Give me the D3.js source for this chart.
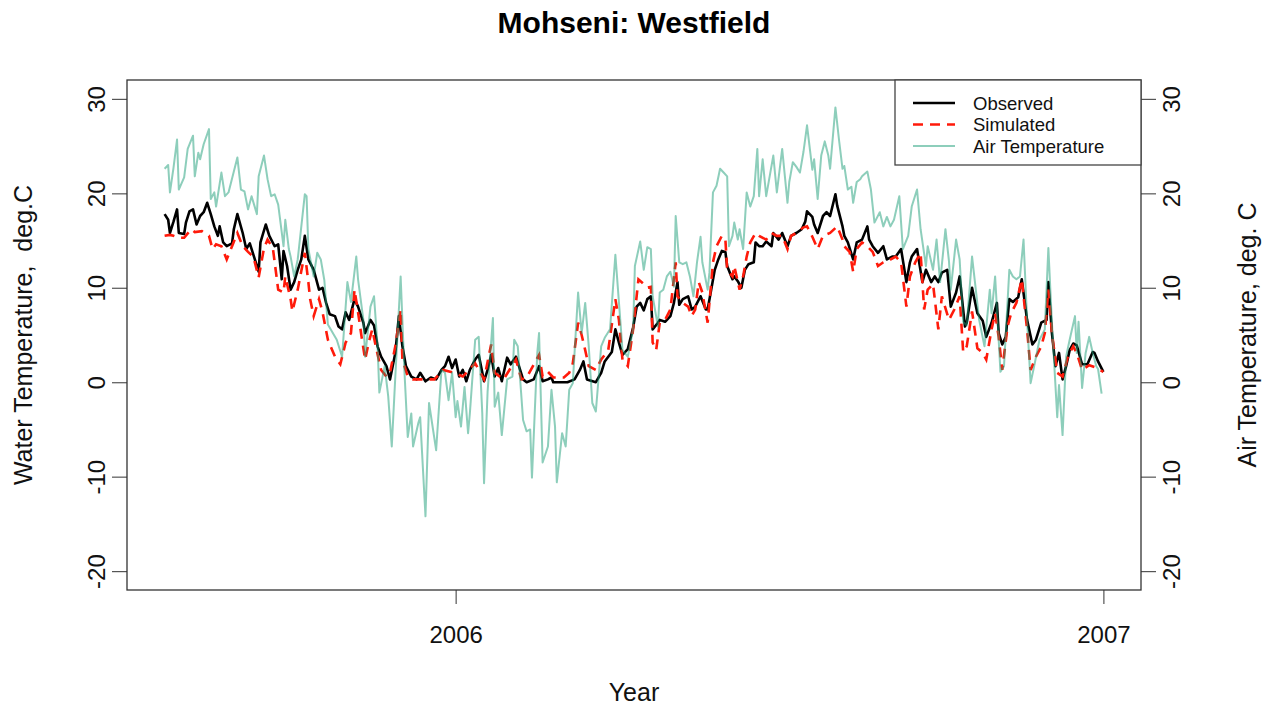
<!DOCTYPE html>
<html><head><meta charset="utf-8">
<script src="https://cdn.jsdelivr.net/npm/d3@7"></script>
<style>body{margin:0;background:#fff;} svg{display:block;font-family:"Liberation Sans",Arial,sans-serif;}</style>
</head><body><svg id="c" width="1264" height="708"></svg>
<script>
// Day offsets are days from 2006-01-01
const obsDays=[-164,-162,-161,-159,-157,-156,-153,-152,-150,-148,-146,-144,-142,-140,-138,-136,-134,-133,-131,-129,-126,-125,-123,-120,-118,-116,-114,-111,-110,-107,-105,-102,-100,-98,-97,-95,-93,-91,-89,-87,-85,-83,-80,-79,-77,-75,-73,-71,-68,-66,-64,-62,-60,-57,-55,-52,-51,-48,-46,-44,-42,-39,-37,-34,-32,-30,-28,-25,-22,-20,-17,-14,-11,-8,-6,-4,-2,0,2,4,6,8,11,13,16,18,20,22,24,26,29,31,34,38,40,44,47,49,52,54,55,63,67,70,72,74,79,82,84,88,90,92,94,97,100,102,104,106,108,110,111,114,115,118,121,123,125,126,128,131,133,135,138,141,142,144,146,148,150,152,153,156,157,159,161,163,165,168,169,171,173,175,178,179,182,184,187,189,192,195,197,198,201,202,204,207,209,211,214,215,218,219,221,224,226,229,232,233,235,238,241,243,246,248,251,254,256,257,260,263,265,268,270,272,274,277,279,282,284,287,288,291,294,297,299,302,305,306,308,310,312,314,317,319,322,325,327,330,333,334,336,338,340,342,344,346,348,350,353,356,359,360,362,365];
const obsTemp=[17.8,17.2,15.8,17.0,18.3,15.8,15.7,16.9,18.1,18.3,16.7,17.6,18.0,19.0,17.8,16.5,15.5,16.5,14.8,14.4,14.7,16.2,17.8,15.8,14.1,14.7,13.5,11.7,14.8,16.7,15.5,14.4,14.6,10.9,13.9,12.3,9.8,10.6,11.9,13.0,15.5,13.0,11.9,11.2,9.8,10.0,8.4,7.2,7.0,5.9,5.6,7.4,6.6,8.8,8.0,6.3,5.2,6.6,6.0,3.8,2.7,1.7,0.3,3.1,7.0,3.8,1.7,0.6,0.3,1.0,0.1,0.5,0.3,1.3,1.7,2.7,1.5,2.4,0.6,1.3,0.1,1.3,2.4,2.9,0.1,1.3,2.9,0.6,1.5,0.1,2.6,1.9,2.7,0.3,0.0,0.3,1.7,0.1,0.3,0.5,0.0,0.0,0.3,1.3,2.2,0.3,0.0,1.0,2.2,3.2,5.6,4.2,2.9,3.5,5.8,8.0,8.4,7.6,8.8,9.1,5.6,6.3,6.6,6.4,7.0,8.4,10.6,8.2,8.8,9.1,7.7,8.0,9.1,7.7,7.7,9.8,11.9,13.0,13.9,13.8,12.3,10.9,11.2,10.7,10.0,11.9,12.5,12.7,14.8,14.4,14.4,14.9,14.4,15.8,15.1,15.8,14.4,15.5,15.8,16.2,17.0,18.1,17.5,16.7,15.8,17.6,18.0,17.6,19.9,18.7,16.5,15.5,14.8,13.0,14.8,15.1,16.5,15.1,14.4,13.7,14.4,13.0,13.3,13.3,14.1,10.6,12.7,13.3,14.1,10.6,11.9,10.6,11.2,10.6,11.6,11.9,8.0,9.5,11.2,5.9,6.3,10.0,7.3,6.5,4.8,6.3,8.4,5.2,4.0,4.8,8.8,8.5,9.0,10.9,6.6,4.0,4.5,6.3,6.6,10.6,5.2,1.7,3.1,0.3,1.7,3.4,4.1,3.9,1.9,1.9,3.2,3.1,2.2,1.1];
const simDays=[-164,-161,-159,-156,-153,-149,-147,-143,-139,-137,-135,-132,-129,-126,-123,-120,-117,-114,-111,-108,-106,-103,-100,-97,-96,-93,-92,-89,-85,-83,-82,-80,-77,-75,-72,-68,-65,-62,-59,-57,-55,-53,-51,-49,-47,-45,-42,-39,-37,-34,-31,-30,-27,-24,-20,-12,-7,-1,4,11,16,20,22,27,34,37,40,47,49,52,55,61,64,66,68,69,71,73,75,79,82,86,90,92,94,97,100,103,106,108,110,111,113,115,118,121,124,125,128,131,133,135,137,139,142,143,145,147,150,152,153,156,157,160,162,164,166,169,171,175,178,181,184,187,189,192,196,198,201,204,207,211,215,218,219,222,224,226,229,232,235,238,241,245,248,251,254,256,259,262,264,266,269,272,274,278,281,284,286,288,291,294,297,299,302,304,306,308,311,313,316,319,322,324,327,330,332,334,336,339,342,345,348,350,353,357,360,363,365];
const simTemp=[15.5,15.6,15.5,15.3,15.3,16.2,15.9,16.0,15.5,14.1,14.6,14.4,13.0,14.4,15.8,14.4,13.8,13.3,11.1,14.2,15.1,14.2,9.8,9.5,11.2,8.8,7.5,9.8,13.7,10.6,8.8,7.0,8.8,7.4,4.5,2.7,1.9,4.2,5.2,9.8,7.4,4.8,2.4,4.2,5.6,3.8,1.3,0.6,1.0,3.8,7.7,2.4,0.6,0.3,0.3,0.3,1.3,1.0,0.6,2.0,0.3,4.0,1.0,0.3,2.4,0.3,0.5,2.9,0.6,1.1,0.5,0.5,1.0,2.0,4.8,6.3,5.0,3.4,1.7,1.3,2.4,3.4,8.8,6.6,2.4,1.7,5.6,10.9,10.4,10.0,10.1,4.2,3.4,6.3,6.6,7.7,12.7,9.1,8.4,8.0,7.0,7.7,10.6,9.5,6.3,8.4,12.7,14.4,15.5,15.1,11.9,11.2,12.3,9.8,11.2,13.3,14.8,15.8,15.5,15.1,15.8,15.5,15.5,14.1,15.5,15.8,16.4,16.5,15.4,14.1,15.5,15.8,16.5,15.1,14.4,13.8,11.7,14.1,14.8,14.4,13.8,12.3,12.7,13.0,13.3,12.7,8.0,11.2,12.7,13.7,7.7,9.8,10.4,5.6,9.1,6.6,7.7,9.1,3.2,3.8,7.5,3.6,3.1,2.4,5.6,7.3,4.8,1.3,5.9,7.3,8.4,10.9,5.6,1.3,2.7,3.8,5.2,9.8,5.2,1.0,0.6,2.7,3.8,3.1,1.3,1.8,1.6,1.3,1.1];
const airDays=[-164,-162,-161,-159,-157,-156,-153,-151,-148,-147,-145,-144,-142,-139,-138,-136,-135,-132,-130,-128,-123,-121,-119,-117,-115,-112,-111,-108,-106,-104,-102,-100,-97,-96,-94,-93,-91,-89,-85,-84,-83,-80,-78,-76,-74,-72,-67,-64,-61,-59,-56,-55,-52,-51,-48,-46,-44,-43,-40,-38,-36,-34,-31,-29,-27,-25,-24,-21,-20,-17,-15,-11,-8,-6,-4,-2,0,1,3,5,7,8,11,13,15,16,18,21,22,24,26,29,32,33,35,38,40,42,43,46,47,49,52,54,56,57,60,62,64,66,69,71,73,75,77,79,82,84,87,90,93,94,97,100,101,104,106,108,110,111,114,115,117,119,121,123,124,126,128,130,132,134,136,138,139,142,143,145,147,149,151,153,154,156,157,159,160,162,164,166,168,170,171,173,175,179,181,184,187,188,190,192,194,196,198,201,202,204,206,208,210,211,214,216,218,219,221,223,224,226,228,229,232,234,236,239,241,243,245,247,250,252,255,257,260,262,265,266,269,271,273,276,278,279,282,284,286,288,291,293,295,298,301,302,304,306,307,309,312,314,316,318,320,322,324,326,329,332,334,336,339,340,342,344,346,349,350,351,353,355,357,359,361,362,364];
const airTemp=[22.6,23.0,20.1,22.7,25.7,20.4,21.7,24.7,26.1,21.8,24.3,23.6,25.2,26.8,19.4,20.1,18.6,22.2,19.7,20.1,23.8,20.4,20.2,18.3,19.7,17.8,21.8,24.0,21.5,19.7,19.9,18.8,14.4,17.2,14.1,13.3,11.2,13.0,19.9,19.7,14.1,11.2,13.7,13.0,10.8,6.1,4.5,2.7,10.6,8.5,13.3,10.9,6.6,2.7,8.0,9.1,3.8,-1.1,1.7,-1.5,-6.8,0.6,11.2,1.7,-5.8,-3.3,-6.8,-4.3,-3.7,-14.2,-2.2,-7.2,1.3,1.0,-1.9,1.0,-3.7,-2.0,-4.7,-0.5,-5.4,-3.3,4.5,4.8,-3.3,-10.7,-1.0,6.8,-2.6,-1.1,-5.6,0.3,0.6,4.5,3.8,-4.0,-5.2,-5.0,-10.1,3.1,5.2,-8.5,-6.8,-0.8,-4.7,-10.6,-5.4,-6.8,-0.8,-0.1,9.5,5.2,8.4,3.8,-2.2,-3.1,3.8,4.7,5.6,13.5,6.0,3.4,2.7,5.6,12.3,14.9,11.9,14.3,14.1,9.1,5.9,9.5,9.8,11.2,11.7,10.1,17.6,12.7,12.5,12.7,11.2,9.1,12.7,15.4,12.7,9.8,11.6,20.1,20.8,22.6,22.2,21.8,14.4,15.5,16.9,15.1,16.2,14.1,20.1,18.6,19.7,24.7,19.7,23.6,19.7,24.0,20.1,24.7,19.0,21.2,23.3,22.8,22.2,24.4,27.2,22.5,23.6,19.4,24.0,25.5,24.0,22.6,29.1,25.7,22.6,22.9,20.4,20.7,19.0,21.2,21.5,21.8,22.3,20.4,16.9,18.0,16.5,17.5,16.5,17.2,19.7,14.1,15.5,18.6,20.4,16.2,12.3,14.4,11.9,15.1,10.6,16.2,12.8,9.8,15.1,13.0,6.4,6.0,13.3,10.0,6.6,3.8,9.8,7.3,11.2,4.5,1.1,1.7,11.9,11.2,10.9,11.2,15.1,6.6,-0.1,1.7,4.5,5.6,14.2,6.3,-3.7,-0.3,-5.6,2.7,4.5,7.0,3.1,6.4,-0.6,3.1,4.8,3.1,1.7,1.4,-1.2];
const yTicks=[-20,-10,0,10,20,30];
const xTickDays=[0,365];
const xTickLabels=["2006","2007"];
const legendLabels=["Observed","Simulated","Air Temperature"];

const svg=d3.select("#c");
const L=127,R=1141,T=80,B=590;
const x=d3.scaleLinear().domain([-185.2,386.2]).range([L,R]);
const y=d3.scaleLinear().domain([-22,32]).range([B,T]);
const line=d3.line().x(d=>x(d[0])).y(d=>y(d[1]));

// title
svg.append("text").attr("x",(L+R)/2).attr("y",33).attr("text-anchor","middle")
  .attr("font-size",30).attr("font-weight","bold").text("Mohseni: Westfield");

// series
svg.append("path").datum(d3.zip(obsDays,obsTemp)).attr("d",line)
  .attr("fill","none").attr("stroke","#000").attr("stroke-width",2.6).attr("stroke-linejoin","round");
svg.append("path").datum(d3.zip(simDays,simTemp)).attr("d",line)
  .attr("fill","none").attr("stroke","#ff1a0a").attr("stroke-width",2.6).attr("stroke-dasharray","10,7");
svg.append("path").datum(d3.zip(airDays,airTemp)).attr("d",line)
  .attr("fill","none").attr("stroke","#1B9E77").attr("stroke-opacity",0.5).attr("stroke-width",2).attr("stroke-linejoin","round");

// axes
const fmt=d=>String(d);
const axL=svg.append("g").attr("transform",`translate(${L},0)`).call(d3.axisLeft(y).tickValues(yTicks).tickSize(15).tickFormat(fmt));
const axR=svg.append("g").attr("transform",`translate(${R},0)`).call(d3.axisRight(y).tickValues(yTicks).tickSize(15).tickFormat(fmt));
const axB=svg.append("g").attr("transform",`translate(0,${B})`).call(d3.axisBottom(x).tickValues(xTickDays).tickSize(14).tickFormat((d,i)=>xTickLabels[i]));
[axL,axR,axB].forEach(a=>{a.select(".domain").remove();a.selectAll("line").attr("stroke","#555").attr("stroke-width",1.2);
  a.selectAll("text").attr("font-size",24).attr("fill","#111").attr("font-family","Liberation Sans, Arial, sans-serif");});
axL.selectAll("text").attr("x",null).attr("dy",null).attr("text-anchor","middle").attr("transform","translate(-22,0) rotate(-90)");
axR.selectAll("text").attr("x",null).attr("dy",null).attr("text-anchor","middle").attr("transform","translate(39,0) rotate(-90)");
axB.selectAll("text").attr("y",53).attr("dy",null);

// box
svg.append("rect").attr("x",L).attr("y",T).attr("width",R-L).attr("height",B-T)
  .attr("fill","none").attr("stroke","#333").attr("stroke-width",1.3);

// axis titles
svg.append("text").attr("transform",`translate(32,${(T+B)/2}) rotate(-90)`).attr("text-anchor","middle")
  .attr("font-size",25).attr("fill","#111").attr("xml:space","preserve").style("white-space","pre").text("Water Temperature,  deg.C");
svg.append("text").attr("transform",`translate(1256,${(T+B)/2}) rotate(-90)`).attr("text-anchor","middle")
  .attr("font-size",25).attr("fill","#111").text("Air Temperature, deg. C");
svg.append("text").attr("x",(L+R)/2).attr("y",701).attr("text-anchor","middle")
  .attr("font-size",25).attr("fill","#111").text("Year");

// legend
const lg=svg.append("g");
lg.append("rect").attr("x",895).attr("y",T).attr("width",R-895).attr("height",85)
  .attr("fill","#fff").attr("stroke","#444").attr("stroke-width",1.3);
const lstyles=[{c:"#000",w:2.6,da:null,o:1},{c:"#ff1a0a",w:2.6,da:"10,7",o:1},{c:"#1B9E77",w:2,da:null,o:0.5}];
legendLabels.forEach((t,i)=>{
  const yy=103+i*21.5;
  lg.append("line").attr("x1",913).attr("x2",955).attr("y1",yy).attr("y2",yy)
    .attr("stroke",lstyles[i].c).attr("stroke-width",lstyles[i].w).attr("stroke-dasharray",lstyles[i].da).attr("stroke-opacity",lstyles[i].o);
  lg.append("text").attr("x",973).attr("y",yy+6.5).attr("font-size",18.5).attr("fill","#111").text(t);
});
</script></body></html>
